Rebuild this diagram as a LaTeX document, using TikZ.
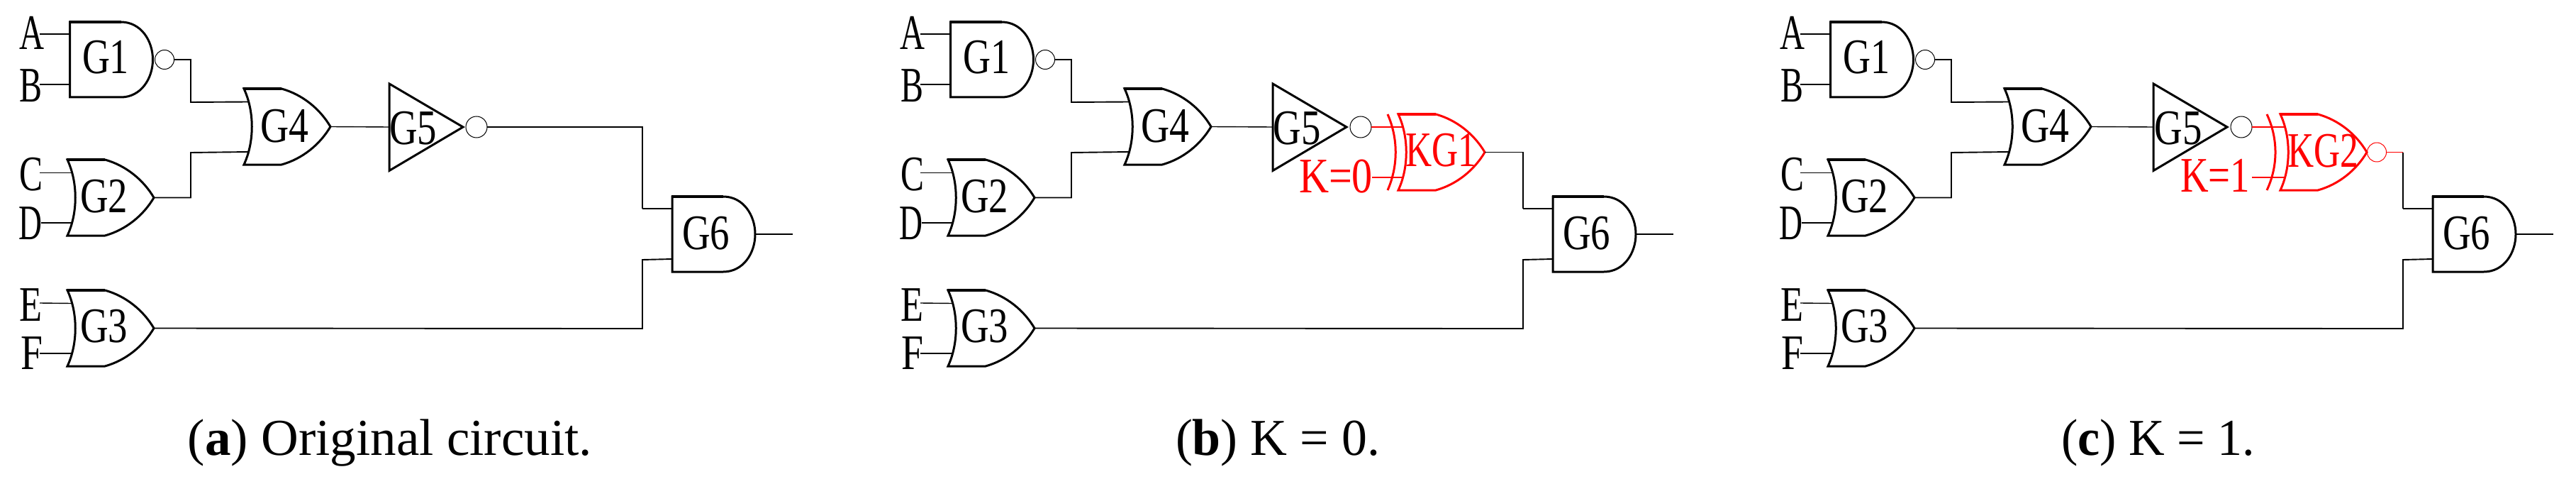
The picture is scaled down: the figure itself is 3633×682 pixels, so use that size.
\documentclass[tikz,border=0pt]{standalone}
\usepackage{graphicx}
\usepackage{fontspec}
\setmainfont{Liberation Serif}
\definecolor{kred}{RGB}{255,0,0}
\tikzset{
  x=1pt,y=-1pt,
  gateline/.style={line width=3pt,line join=miter,miter limit=3},
  topline/.style={line width=4.2pt},
  wire/.style={line width=1.4pt},
  routewire/.style={line width=1.9pt},
  bubble/.style={circle,draw,line width=1pt,inner sep=0pt,outer sep=0pt,minimum size=28pt},
  gtext/.style={anchor=base,inner sep=0pt,outer sep=0pt,font=\fontsize{70}{70}\selectfont},
  captext/.style={anchor=base,inner sep=0pt,outer sep=0pt,font=\fontsize{73}{73}\selectfont},
}
\newcommand\lab[2]{\resizebox{#1pt}{\height}{#2}}
% and gate: name, left, top
\newcommand\andgate[3]{%
  \draw[gateline] (#2,#3) -- (#2+72,#3)
    .. controls (#2+100,#3) and (#2+117,#3+26) .. (#2+117,#3+53)
    .. controls (#2+117,#3+80) and (#2+100,#3+106) .. (#2+72,#3+106)
    -- (#2,#3+106) -- cycle;
  \draw[topline] (#2-1,#3) -- (#2+72,#3);
  \coordinate (#1i1) at (#2,#3+17);
  \coordinate (#1i2) at (#2,#3+88);
  \coordinate (#1o) at (#2+117,#3+53);
}
% or gate: name, left, top, extra style
\newcommand\orgate[4]{%
  \draw[gateline,#4] (#2,#3) -- (#2+53,#3)
    .. controls (#2+82,#3+8) and (#2+107,#3+28) .. (#2+122,#3+53.5)
    .. controls (#2+107,#3+79) and (#2+82,#3+99) .. (#2+53,#3+107)
    -- (#2,#3+107)
    .. controls (#2+15,#3+75) and (#2+15,#3+32) .. cycle;
  \draw[topline,#4] (#2-1,#3) -- (#2+53,#3);
  \coordinate (#1i1) at (#2+6,#3+18.5);
  \coordinate (#1i2) at (#2+6,#3+89);
  \coordinate (#1o) at (#2+122,#3+53.5);
}
% common part of a panel: prefix, shift, G5 left, G5 text centre, G5 bubble centre
\newcommand\panel[5]{%
\begin{scope}[xshift=#2]
  \node[gtext] (#1lA) at (45,70) {\lab{35}{A}};
  \node[gtext] (#1lB) at (44,144) {\lab{32}{B}};
  \node[gtext] (#1lC) at (44.5,268) {\lab{33}{C}};
  \node[gtext] (#1lD) at (43,337) {\lab{33}{D}};
  \node[gtext] (#1lE) at (44,452) {\lab{32}{E}};
  \node[gtext] (#1lF) at (45,520) {\lab{31}{F}};
  \coordinate (#1iA) at (56,48);
  \coordinate (#1iB) at (56,119);
  \coordinate (#1iC) at (56,243.5);
  \coordinate (#1iD) at (58,314);
  \coordinate (#1iE) at (56,427);
  \coordinate (#1iF) at (56,498);
  \andgate{#1G1}{98.5}{31}
  \orgate{#1G2}{95}{225}{}
  \orgate{#1G3}{95}{409}{}
  \orgate{#1G4}{344}{125}{}
  \andgate{#1G6}{948}{277}
  \draw[gateline] (#3,118) -- (#3+104,179) -- (#3,240.5) -- cycle;
  \coordinate (#1G5i) at (#3,179);
  \coordinate (#1G5o) at (#3+104,179);
  \node[gtext] (#1tG1) at (149,104) {\lab{66}{G1}};
  \node[gtext] (#1tG2) at (146.5,299) {\lab{67}{G2}};
  \node[gtext] (#1tG3) at (146.5,482) {\lab{67}{G3}};
  \node[gtext] (#1tG4) at (401,200) {\lab{68}{G4}};
  \node[gtext] (#1tG5) at (#4,204) {\lab{67}{G5}};
  \node[gtext] (#1tG6) at (995.5,351) {\lab{67}{G6}};
  \node[bubble,minimum size=27pt] (#1b1) at (232,84) {};
  \node[bubble,minimum size=30pt] (#1b5) at (#5,179) {};
  \coordinate (#1j1) at (269,144);
  \coordinate (#1j2) at (269,215);
  \coordinate (#1j) at (906,294);
  \coordinate (#1jl) at (906,366);
  \coordinate (#1k) at (861,463);
  \draw[wire] (#1iA) -- (#1G1i1);
  \draw[wire] (#1iB) -- (#1G1i2);
  \draw[wire] (#1iC) -- (#1G2i1);
  \draw[wire] (#1iD) -- (#1G2i2);
  \draw[wire] (#1iE) -- (#1G3i1);
  \draw[wire] (#1iF) -- (#1G3i2);
  \draw[routewire] (#1b1.east) -| (#1j1) -- (#1G4i1);
  \draw[routewire] (#1G2o) -| (#1j2) -- (#1G4i2);
  \draw[wire] (#1G4o) -- (#1G5i);
  \draw[routewire] (#1G3o) -- (#1k) -| (#1jl) -- (#1G6i2);
  \draw[routewire] (#1j) -- (#1G6i1);
  \coordinate (#1end) at (1118,330);
  \draw[wire] (#1G6o) -- (#1end);
\end{scope}}
\begin{document}
\begin{tikzpicture}
\useasboundingbox (0,0) rectangle (3633,682);
\panel{a}{0}{549}{582.5}{672}
\panel{b}{1242}{553}{587}{677}
\panel{c}{2483}{554}{589}{678}
% panel a
\draw[routewire] (ab5.east) -| (aj);
\node[captext] (capa) at (550,641) {\lab{570}{(\textbf{a}) Original circuit.}};
% panel b
\begin{scope}[kred]
  \coordinate (bx2) at (1935,250);
  \orgate{bKG}{1972}{161}{kred}
  \draw[gateline,kred] (1957,161) .. controls (1972,195) and (1972,234) .. (1957,268);
  \draw[wire,kred] (bb5.east) -- (bKGi1 |- bb5.east);
  \draw[wire,kred] (bx2) -- (bKGi2 |- bx2);
  \node[gtext,text=kred] (bKGt) at (2032,234) {\lab{100}{KG1}};
  \node[gtext,text=kred] (bK) at (1884,271) {\lab{104}{K=0}};
\end{scope}
\draw[routewire] (bKGo) -| (bj);
\node[captext] (capb) at (1802,641) {\lab{288}{(\textbf{b}) K = 0.}};
% panel c
\begin{scope}[kred]
  \coordinate (cx2) at (3176,250);
  \orgate{cKG}{3216}{161}{kred}
  \draw[gateline,kred] (3197,161) .. controls (3213,195) and (3213,234) .. (3197,268);
  \draw[wire,kred] (cb5.east) -- (cKGi1 |- cb5.east);
  \draw[wire,kred] (cx2) -- (cKGi2 |- cx2);
  \node[gtext,text=kred] (cKGt) at (3276,235) {\lab{100}{KG2}};
  \node[gtext,text=kred] (cK) at (3124,270) {\lab{98}{K=1}};
  \node[bubble,draw=kred,minimum size=27pt] (cb7) at (3352,214.5) {};
\end{scope}
\coordinate (cq) at (3389,214.5);
\draw[wire,kred] (cb7.east) -- (cq);
\draw[routewire] (cq) -- (cj);
\node[captext] (capc) at (3043.5,641) {\lab{273}{(\textbf{c}) K = 1.}};
\end{tikzpicture}
\end{document}
